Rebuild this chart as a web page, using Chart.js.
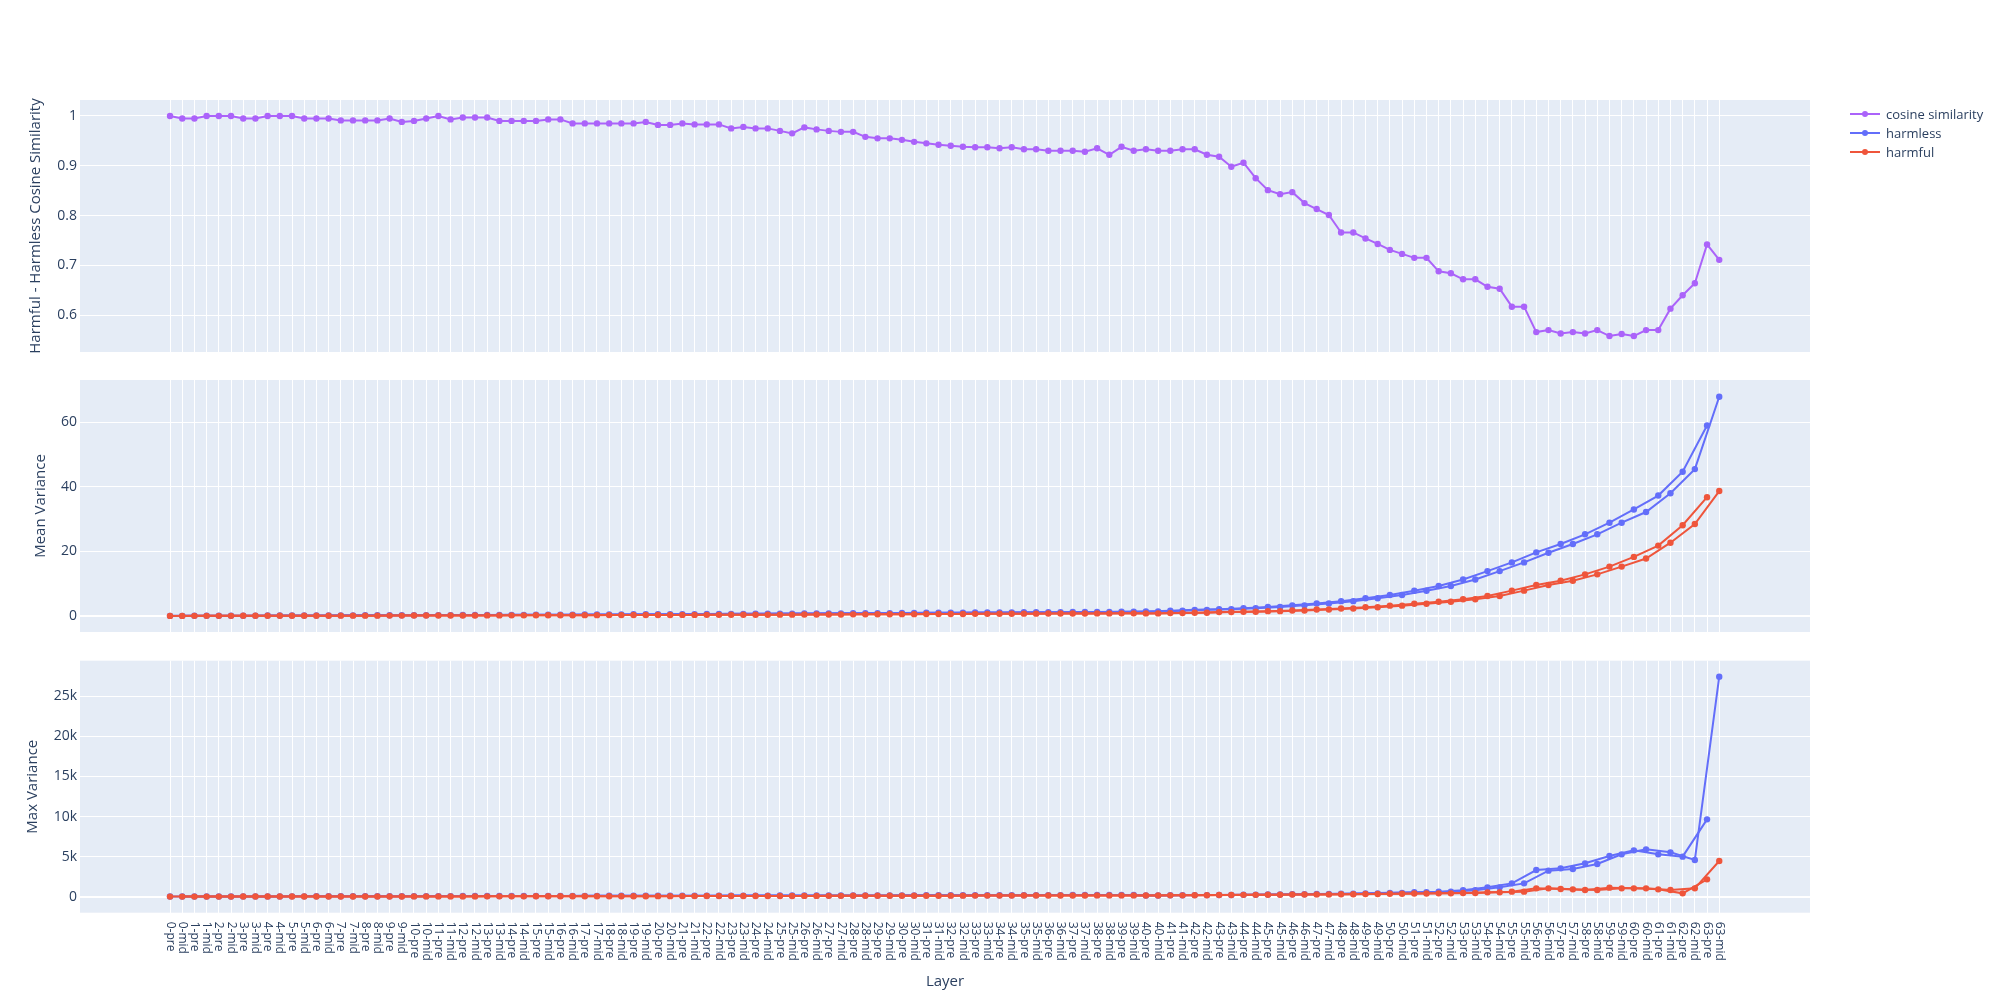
<!DOCTYPE html>
<html>
<head>
<meta charset="utf-8">
<script src="https://cdn.jsdelivr.net/npm/chart.js@4.4.1/dist/chart.umd.min.js"></script>
<style>
  body { margin: 0; background: #fff; width: 2000px; height: 1000px; position: relative; overflow: hidden; font-family: "Open Sans", sans-serif; }
  canvas { position: absolute; left: 0; }
  #legend { position: absolute; left: 1850px; top: 105px; font-size: 13px; color: #2a3f5f; }
  .row { position: relative; height: 19px; line-height: 19px; padding-left: 36px; }
  .row .ln { position: absolute; left: 0; top: 8px; width: 30px; height: 2px; }
  .row .dot { position: absolute; left: 12px; top: 6px; width: 6px; height: 6px; border-radius: 50%; }
</style>
</head>
<body>
<canvas id="c1" width="2000" height="366" style="top:0px"></canvas>
<canvas id="c2" width="2000" height="280" style="top:366px"></canvas>
<canvas id="c3" width="2000" height="354" style="top:646px"></canvas>
<div id="legend"></div>
<script>
// layer labels: 0-pre, 0-mid, 1-pre, ... 63-mid
const layers = [];
for (let l = 0; l < 64; l++) { layers.push(l + "-pre"); layers.push(l + "-mid"); }

const cosineSim = [
  1.000, 0.995, 0.995, 1.000, 1.000, 1.000, 0.995, 0.995, 1.000, 1.000,
  1.000, 0.995, 0.995, 0.995, 0.991, 0.991, 0.991, 0.991, 0.995, 0.988,
  0.990, 0.995, 1.000, 0.993, 0.997, 0.997, 0.997, 0.990, 0.990, 0.990,
  0.990, 0.993, 0.993, 0.985, 0.985, 0.985, 0.985, 0.985, 0.985, 0.988,
  0.982, 0.982, 0.985, 0.983, 0.983, 0.983, 0.975, 0.978, 0.975, 0.975,
  0.970, 0.965, 0.977, 0.973, 0.970, 0.968, 0.968, 0.958, 0.955, 0.955,
  0.952, 0.948, 0.945, 0.942, 0.940, 0.938, 0.937, 0.937, 0.935, 0.937,
  0.933, 0.933, 0.930, 0.930, 0.930, 0.928, 0.935, 0.922, 0.938, 0.930,
  0.933, 0.930, 0.930, 0.933, 0.933, 0.922, 0.918, 0.898, 0.906, 0.875,
  0.851, 0.843, 0.847, 0.825, 0.813, 0.801, 0.766, 0.766, 0.754, 0.743,
  0.731, 0.723, 0.715, 0.715, 0.688, 0.684, 0.672, 0.672, 0.657, 0.653,
  0.617, 0.617, 0.566, 0.570, 0.563, 0.566, 0.563, 0.570, 0.558, 0.562,
  0.558, 0.570, 0.570, 0.613, 0.640, 0.664, 0.742, 0.711
];

const harmlessMean = [
  0.05, 0.05, 0.07, 0.07, 0.09, 0.09, 0.11, 0.11, 0.13, 0.13,
  0.15, 0.15, 0.17, 0.17, 0.19, 0.19, 0.21, 0.21, 0.23, 0.23,
  0.25, 0.25, 0.28, 0.28, 0.30, 0.30, 0.33, 0.33, 0.36, 0.36,
  0.39, 0.39, 0.42, 0.42, 0.45, 0.45, 0.48, 0.48, 0.52, 0.52,
  0.55, 0.55, 0.58, 0.58, 0.62, 0.62, 0.66, 0.66, 0.70, 0.70,
  0.74, 0.74, 0.78, 0.78, 0.82, 0.82, 0.86, 0.86, 0.90, 0.90,
  0.94, 0.94, 0.98, 0.98, 1.02, 1.02, 1.06, 1.06, 1.10, 1.10,
  1.14, 1.14, 1.18, 1.18, 1.22, 1.22, 1.26, 1.26, 1.30, 1.30,
  1.4, 1.4, 1.6, 1.6, 1.9, 1.9, 2.1, 2.1, 2.4, 2.4,
  2.8, 2.8, 3.3, 3.3, 3.9, 3.9, 4.6, 4.6, 5.5, 5.5,
  6.5, 6.5, 7.8, 7.8, 9.3, 9.3, 11.3, 11.3, 13.9, 13.9,
  16.6, 16.6, 19.7, 19.6, 22.3, 22.3, 25.3, 25.3, 28.9, 28.9,
  33.0, 32.2, 37.3, 38.0, 44.7, 45.5, 59.0, 67.9
];

const harmfulMean = [
  0.03, 0.03, 0.04, 0.04, 0.05, 0.05, 0.06, 0.06, 0.07, 0.07,
  0.08, 0.08, 0.09, 0.09, 0.10, 0.10, 0.11, 0.11, 0.12, 0.12,
  0.14, 0.14, 0.15, 0.15, 0.17, 0.17, 0.18, 0.18, 0.20, 0.20,
  0.22, 0.22, 0.24, 0.24, 0.26, 0.26, 0.28, 0.28, 0.30, 0.30,
  0.32, 0.32, 0.34, 0.34, 0.36, 0.36, 0.38, 0.38, 0.40, 0.40,
  0.42, 0.42, 0.45, 0.45, 0.48, 0.48, 0.51, 0.51, 0.54, 0.54,
  0.57, 0.57, 0.60, 0.60, 0.63, 0.63, 0.66, 0.66, 0.69, 0.69,
  0.72, 0.72, 0.75, 0.75, 0.78, 0.78, 0.80, 0.80, 0.82, 0.82,
  0.8, 0.8, 0.9, 0.9, 1.0, 1.0, 1.2, 1.2, 1.3, 1.3,
  1.5, 1.5, 1.7, 1.7, 2.0, 2.0, 2.3, 2.3, 2.7, 2.7,
  3.2, 3.2, 3.8, 3.8, 4.4, 4.4, 5.2, 5.2, 6.2, 6.2,
  7.85, 7.85, 9.6, 9.6, 10.9, 10.9, 12.9, 12.9, 15.3, 15.3,
  18.3, 17.8, 21.8, 22.7, 28.1, 28.5, 36.8, 38.7
];

const harmlessMax = [
  20, 20, 25, 25, 30, 30, 35, 35, 40, 40,
  45, 45, 50, 50, 55, 55, 60, 60, 65, 65,
  70, 70, 75, 75, 80, 80, 85, 85, 90, 90,
  95, 95, 100, 100, 105, 105, 110, 110, 115, 115,
  120, 120, 125, 125, 130, 130, 135, 135, 140, 140,
  145, 145, 150, 150, 155, 155, 160, 160, 165, 165,
  170, 170, 175, 175, 180, 180, 185, 185, 190, 190,
  195, 195, 200, 200, 205, 205, 210, 210, 215, 215,
  150, 150, 180, 180, 200, 200, 220, 220, 250, 250,
  280, 280, 300, 300, 330, 330, 380, 380, 420, 420,
  480, 480, 550, 550, 620, 620, 800, 800, 1165, 1165,
  1663, 1663, 3330, 3247, 3538, 3455, 4163, 4080, 5078, 5286,
  5785, 5910, 5286, 5535, 4994, 4578, 9652, 27449
];

const harmfulMax = [
  10, 10, 12, 12, 15, 15, 18, 18, 20, 20,
  22, 22, 25, 25, 28, 28, 30, 30, 33, 33,
  35, 35, 38, 38, 40, 40, 43, 43, 45, 45,
  48, 48, 50, 50, 55, 55, 60, 60, 65, 65,
  70, 70, 75, 75, 80, 80, 85, 85, 90, 90,
  95, 95, 100, 100, 105, 105, 110, 110, 115, 115,
  120, 120, 125, 125, 130, 130, 135, 135, 140, 140,
  145, 145, 150, 150, 155, 155, 160, 160, 165, 165,
  150, 150, 170, 170, 190, 190, 210, 210, 230, 230,
  250, 250, 270, 270, 290, 290, 310, 310, 330, 330,
  360, 360, 390, 390, 420, 420, 460, 460, 545, 545,
  628, 628, 1044, 1044, 961, 919, 836, 836, 1128, 1044,
  1044, 1044, 919, 836, 420, 1044, 2166, 4453
];

const cosTicks = [0.6, 0.7, 0.8, 0.9, 1];
const cosTickLabels = ["0.6", "0.7", "0.8", "0.9", "1"];
const meanTicks = [0, 20, 40, 60];
const meanTickLabels = ["0", "20", "40", "60"];
const maxTicks = [0, 5000, 10000, 15000, 20000, 25000];
const maxTickLabels = ["0", "5k", "10k", "15k", "20k", "25k"];

const PURPLE = "#ab63fa", BLUE = "#636efa", RED = "#EF553B";
const TEXT = "#2a3f5f", FONT = "Open Sans";

// split a series into the pre strand and the mid strand
function pts(vals, suffix) {
  const out = [];
  vals.forEach((v, i) => {
    if (!suffix || layers[i].endsWith(suffix)) out.push({ x: i, y: v });
  });
  return out;
}

function ds(label, data, color, order) {
  return {
    label: label, data: data, borderColor: color, backgroundColor: color,
    borderWidth: 2, pointRadius: 3.2, pointHoverRadius: 3.2, pointBorderWidth: 0,
    tension: 0, order: order
  };
}

const panelPlugin = {
  id: "panel",
  beforeDraw(chart) {
    const a = chart.chartArea, ctx = chart.ctx;
    ctx.save();
    ctx.fillStyle = "#E5ECF6";
    ctx.fillRect(a.left, a.top, a.right - a.left, a.bottom - a.top);
    ctx.restore();
  },
  afterDraw(chart) {
    const o = chart.options.plugins.panel, a = chart.chartArea, ctx = chart.ctx;
    ctx.save();
    ctx.fillStyle = TEXT;
    ctx.font = "15px '" + FONT + "'";
    ctx.textAlign = "center";
    ctx.textBaseline = "middle";
    ctx.translate(o.titleX, (a.top + a.bottom) / 2);
    ctx.rotate(-Math.PI / 2);
    ctx.fillText(o.title, 0, 0);
    ctx.restore();
    if (o.xLabels) {
      const xs = chart.scales.x;
      ctx.save();
      ctx.fillStyle = TEXT;
      ctx.font = "12px '" + FONT + "'";
      ctx.textAlign = "left";
      ctx.textBaseline = "middle";
      layers.forEach((lab, i) => {
        ctx.save();
        ctx.translate(xs.getPixelForValue(i), a.bottom + 9);
        ctx.rotate(Math.PI / 2);
        ctx.fillText(lab, 0, 0);
        ctx.restore();
      });
      ctx.font = "15px '" + FONT + "'";
      ctx.textAlign = "center";
      ctx.fillText("Layer", (a.left + a.right) / 2, a.bottom + 69);
      ctx.restore();
    }
  }
};

function makePanel(id, datasets, yMin, yMax, ticks, tickLabels, title, titleX, padTop, padBottom, xLabels) {
  return new Chart(document.getElementById(id), {
    type: "line",
    data: { datasets: datasets },
    plugins: [panelPlugin],
    options: {
      responsive: false,
      animation: false,
      events: [],
      layout: { padding: { top: padTop, bottom: padBottom, left: 0, right: 190 } },
      plugins: {
        legend: { display: false },
        tooltip: { enabled: false },
        panel: { title: title, titleX: titleX, xLabels: xLabels }
      },
      scales: {
        x: {
          type: "linear", min: -7.38, max: 134.44,
          afterBuildTicks: s => { s.ticks = layers.map((_, i) => ({ value: i })); },
          afterFit: s => { s.height = 0; },
          ticks: { display: false, autoSkip: false },
          grid: { color: "#ffffff", lineWidth: 1, drawTicks: false },
          border: { display: false }
        },
        y: {
          min: yMin, max: yMax,
          afterBuildTicks: s => { s.ticks = ticks.map(v => ({ value: v })); },
          afterFit: s => { s.width = 80; },
          ticks: {
            color: TEXT, font: { family: FONT, size: 14 }, padding: 3,
            callback: (v, i) => tickLabels[i]
          },
          grid: {
            color: "#ffffff", drawTicks: false,
            lineWidth: c => (c.tick && c.tick.value === 0 ? 2 : 1)
          },
          border: { display: false }
        }
      }
    }
  });
}

makePanel("c1", [ds("cosine similarity", pts(cosineSim), PURPLE, 0)],
  0.526, 1.032, cosTicks, cosTickLabels, "Harmful - Harmless Cosine Similarity", 36, 100, 14, false);

makePanel("c2", [
    ds("harmless", pts(harmlessMean, "-pre"), BLUE, 3),
    ds("harmless", pts(harmlessMean, "-mid"), BLUE, 2),
    ds("harmful", pts(harmfulMean, "-pre"), RED, 1),
    ds("harmful", pts(harmfulMean, "-mid"), RED, 0)
  ], -4.96, 73.1, meanTicks, meanTickLabels, "Mean Variance", 41, 14, 14, false);

makePanel("c3", [
    ds("harmless", pts(harmlessMax, "-pre"), BLUE, 3),
    ds("harmless", pts(harmlessMax, "-mid"), BLUE, 2),
    ds("harmful", pts(harmfulMax, "-pre"), RED, 1),
    ds("harmful", pts(harmfulMax, "-mid"), RED, 0)
  ], -1996, 29441, maxTicks, maxTickLabels, "Max Variance", 33, 14.7, 87.3, true);

// legend
const legendItems = [["cosine similarity", PURPLE], ["harmless", BLUE], ["harmful", RED]];
const legend = document.getElementById("legend");
legendItems.forEach(([name, color]) => {
  const row = document.createElement("div");
  row.className = "row";
  row.innerHTML = '<span class="ln" style="background:' + color + '"></span>' +
    '<span class="dot" style="background:' + color + '"></span>' + name;
  legend.appendChild(row);
});
</script>
</body>
</html>
